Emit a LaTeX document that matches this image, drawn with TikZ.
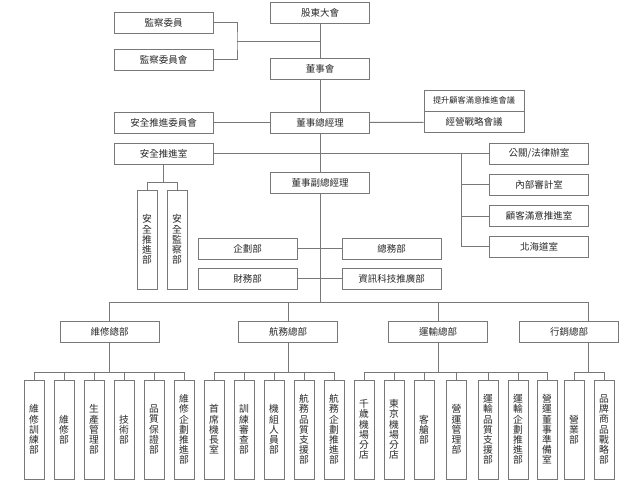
\documentclass[tikz,border=0pt]{standalone}
\usepackage{fontspec}
\newfontfamily\cjk{Noto Sans CJK TC}
\definecolor{linecol}{RGB}{120,120,120}
\definecolor{txtcol}{RGB}{40,40,40}
\begin{document}
\begin{tikzpicture}[x=1pt,y=-1pt, color=linecol, line width=0.9pt,
  hbox/.style={draw=linecol, line width=0.9pt, minimum width=99pt, minimum height=21pt, inner sep=0pt,
    text=txtcol, font=\cjk\fontsize{9.5}{11}\selectfont},
  smallbox/.style={hbox, font=\cjk\fontsize{8.2}{10}\selectfont, minimum width=100pt},
  vbox/.style={draw=linecol, line width=0.9pt, minimum width=20pt, minimum height=99pt, inner sep=0pt,
    align=center, text=txtcol, font=\cjk\fontsize{9.8}{10.2}\selectfont}]
\path[use as bounding box] (0,0) rectangle (641,482);

% top column
\node[hbox] (gd) at (320,12.5) {股東大會};
\node[hbox] (jc1) at (163.5,22.5) {監察委員};
\node[hbox] (jc2) at (163.5,59.5) {監察委員會};
\node[hbox] (dsh) at (320,69) {董事會};
\node[hbox] (zjl) at (320,122.5) {董事總經理};
\node[hbox] (aqwy) at (163.5,122.5) {安全推進委員會};
\node[smallbox] (tsgk) at (474,100.8) {提升顧客滿意推進會議};
\node[hbox, minimum width=100pt] (jyzl) at (474,122.2) {經營戰略會議};
\node[hbox] (aqs) at (163.5,153.5) {安全推進室};
\node[hbox] (gg) at (539,153.5) {公關/法律辦室};
\node[hbox] (nb) at (539,184.5) {內部審計室};
\node[hbox] (gk) at (539,216) {顧客滿意推進室};
\node[hbox] (bh) at (539,246.5) {北海道室};
\node[hbox] (fzjl) at (320,182.5) {董事副總經理};
\node[vbox] (aqtj) at (147,239.5) {安\\全\\推\\進\\部};
\node[vbox] (aqjc) at (177,239.5) {安\\全\\監\\察\\部};
\node[hbox] (qh) at (247.5,248.5) {企劃部};
\node[hbox] (zw) at (391.5,248.5) {總務部};
\node[hbox] (cw) at (247.5,278.5) {財務部};
\node[hbox] (zx) at (391.5,278.5) {資訊科技推廣部};

% divisions
\node[hbox] (wx) at (109.5,331.5) {維修總部};
\node[hbox] (hw) at (288,331.5) {航務總部};
\node[hbox] (ys) at (438,331.5) {運輸總部};
\node[hbox] (xx) at (569,331.5) {行銷總部};

% departments
\node[vbox] (w1) at (34,429.5) {維\\修\\訓\\練\\部};
\node[vbox] (w2) at (64,429.5) {維\\修\\部};
\node[vbox] (w3) at (94,429.5) {生\\產\\管\\理\\部};
\node[vbox] (w4) at (124,429.5) {技\\術\\部};
\node[vbox] (w5) at (154,429.5) {品\\質\\保\\證\\部};
\node[vbox] (w6) at (184,429.5) {維\\修\\企\\劃\\推\\進\\部};
\node[vbox] (h1) at (214,429.5) {首\\席\\機\\長\\室};
\node[vbox] (h2) at (244,429.5) {訓\\練\\審\\查\\部};
\node[vbox] (h3) at (274,429.5) {機\\組\\人\\員\\部};
\node[vbox] (h4) at (304,429.5) {航\\務\\品\\質\\支\\援\\部};
\node[vbox] (h5) at (334,429.5) {航\\務\\企\\劃\\推\\進\\部};
\node[vbox] (y1) at (364,429.5) {千\\歲\\機\\場\\分\\店};
\node[vbox] (y2) at (394,429.5) {東\\京\\機\\場\\分\\店};
\node[vbox] (y3) at (424,429.5) {客\\艙\\部};
\node[vbox] (y4) at (456.5,429.5) {營\\運\\管\\理\\部};
\node[vbox] (y5) at (488,429.5) {運\\輸\\品\\質\\支\\援\\部};
\node[vbox] (y6) at (518,429.5) {運\\輸\\企\\劃\\推\\進\\部};
\node[vbox] (y7) at (547,429.5) {營\\運\\董\\事\\準\\備\\室};
\node[vbox] (x1) at (574,429.5) {營\\業\\部};
\node[vbox] (x2) at (604,429.5) {品\\牌\\商\\品\\戰\\略\\部};

% helper coordinates
\coordinate (jcj) at (237,41);
\coordinate (rb) at (461,153.5);
\coordinate (aqj) at (163.5,182);
\coordinate (topbar) at (320,302);
\coordinate (xxl) at (588,302);
\coordinate (subbar) at (0,372);

% connectors top
\draw (gd) -- (dsh);
\draw (dsh) -- (zjl);
\draw (zjl) -- (fzjl);
\draw (fzjl) -- (topbar);
\draw (jc1.east) -| (jcj) |- (jc2.east);
\draw (jcj) -- (jcj -| gd);
\draw (aqwy) -- (zjl);
\draw (zjl) -- (jyzl);
\draw (aqs) -- (gg);
\draw (rb) |- (bh.west);
\draw (nb.west) -- (nb.west -| rb);
\draw (gk.west) -- (gk.west -| rb);
\draw (aqs.south) -- (aqj);
\draw (aqtj.north) -- (aqtj.north |- aqj) -- (aqjc.north |- aqj) -- (aqjc.north);
\draw (qh) -- (zw);
\draw (cw) -- (zx);

% division bar
\draw (wx.north) -- (wx.north |- topbar) -- (xxl) -- (xxl |- xx.north);
\draw (hw.north) -- (hw.north |- topbar);
\draw (ys.north) -- (ys.north |- topbar);

% sub bars
\draw (wx.south) -- (wx.south |- subbar);
\draw (w1.north) -- (w1.north |- subbar) -- (w6.north |- subbar) -- (w6.north);
\foreach \n in {w2,w3,w4,w5} \draw (\n.north) -- (\n.north |- subbar);
\draw (hw.south) -- (hw.south |- subbar);
\draw (h1.north) -- (h1.north |- subbar) -- (h5.north |- subbar) -- (h5.north);
\foreach \n in {h2,h3,h4} \draw (\n.north) -- (\n.north |- subbar);
\draw (ys.south) -- (ys.south |- subbar);
\draw (y1.north) -- (y1.north |- subbar) -- (y7.north |- subbar) -- (y7.north);
\foreach \n in {y2,y3,y4,y5,y6} \draw (\n.north) -- (\n.north |- subbar);
\draw (xxl |- xx.south) -- (xxl |- subbar);
\draw (x1.north) -- (x1.north |- subbar) -- (x2.north |- subbar) -- (x2.north);
\end{tikzpicture}
\end{document}
